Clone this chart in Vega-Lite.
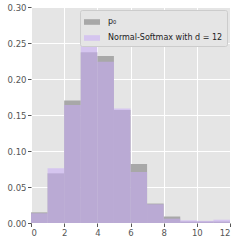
{
  "$schema": "https://vega.github.io/schema/vega-lite/v6.json",
  "width": 199,
  "height": 216,
  "autosize": {"type": "none"},
  "padding": {"left": 31, "top": 7, "right": 11, "bottom": 18},
  "background": "white",
  "config": {
    "view": {"fill": "#e5e5e5", "stroke": null},
    "axis": {
      "domain": false,
      "gridColor": "white",
      "gridWidth": 1,
      "gridOpacity": 1,
      "tickColor": "#555555",
      "tickSize": 3.5,
      "labelColor": "#555555",
      "labelFont": "DejaVu Sans",
      "labelFontSize": 8.5,
      "labelPadding": 1.5,
      "title": null
    }
  },
  "data": {
    "values": [
      {"series": "p₀", "x": 0, "x2": 1, "p": 0.0148},
      {"series": "p₀", "x": 1, "x2": 2, "p": 0.069},
      {"series": "p₀", "x": 2, "x2": 3, "p": 0.170},
      {"series": "p₀", "x": 3, "x2": 4, "p": 0.237},
      {"series": "p₀", "x": 4, "x2": 5, "p": 0.232},
      {"series": "p₀", "x": 5, "x2": 6, "p": 0.157},
      {"series": "p₀", "x": 6, "x2": 7, "p": 0.082},
      {"series": "p₀", "x": 7, "x2": 8, "p": 0.027},
      {"series": "p₀", "x": 8, "x2": 9, "p": 0.009},
      {"series": "p₀", "x": 9, "x2": 10, "p": 0.002},
      {"series": "p₀", "x": 10, "x2": 11, "p": 0.002},
      {"series": "p₀", "x": 11, "x2": 12, "p": 0.002},
      {"series": "Normal-Softmax with d = 12", "x": 0, "x2": 1, "p": 0.0135},
      {"series": "Normal-Softmax with d = 12", "x": 1, "x2": 2, "p": 0.076},
      {"series": "Normal-Softmax with d = 12", "x": 2, "x2": 3, "p": 0.164},
      {"series": "Normal-Softmax with d = 12", "x": 3, "x2": 4, "p": 0.249},
      {"series": "Normal-Softmax with d = 12", "x": 4, "x2": 5, "p": 0.224},
      {"series": "Normal-Softmax with d = 12", "x": 5, "x2": 6, "p": 0.159},
      {"series": "Normal-Softmax with d = 12", "x": 6, "x2": 7, "p": 0.071},
      {"series": "Normal-Softmax with d = 12", "x": 7, "x2": 8, "p": 0.026},
      {"series": "Normal-Softmax with d = 12", "x": 8, "x2": 9, "p": 0.006},
      {"series": "Normal-Softmax with d = 12", "x": 9, "x2": 10, "p": 0.0037},
      {"series": "Normal-Softmax with d = 12", "x": 10, "x2": 11, "p": 0.003},
      {"series": "Normal-Softmax with d = 12", "x": 11, "x2": 12, "p": 0.0046}
    ]
  },
  "mark": {"type": "bar", "cornerRadius": 0},
  "encoding": {
    "x": {"field": "x", "type": "quantitative",
      "scale": {"domain": [0, 12], "nice": false},
      "axis": {"values": [0, 2, 4, 6, 8, 10, 12], "format": "d"}},
    "x2": {"field": "x2"},
    "y": {"field": "p", "type": "quantitative",
      "scale": {"domain": [0, 0.3], "nice": false},
      "axis": {"values": [0, 0.05, 0.1, 0.15, 0.2, 0.25, 0.3], "format": ".2f"},
      "stack": null},
    "y2": {"datum": 0},
    "color": {"field": "series", "type": "nominal",
      "scale": {"domain": ["p₀", "Normal-Softmax with d = 12"], "range": ["#a8a8a8", "#c9acf8"]},
      "legend": {
        "title": null,
        "orient": "top-right",
        "offset": 3,
        "padding": 4,
        "fillColor": "#e5e5e5",
        "strokeColor": "#cccccc",
        "cornerRadius": 2,
        "symbolType": "M-1,-0.35H1V0.35H-1Z",
        "symbolSize": 256,
        "symbolStrokeWidth": 0,
        "labelFont": "DejaVu Sans",
        "labelFontSize": 8,
        "labelColor": "#222222",
        "labelOffset": 8,
        "rowPadding": 4
      }},
    "opacity": {"field": "series", "type": "nominal",
      "scale": {"domain": ["p₀", "Normal-Softmax with d = 12"], "range": [1, 0.55]},
      "legend": null},
    "order": {"field": "series", "sort": "descending"}
  }
}
